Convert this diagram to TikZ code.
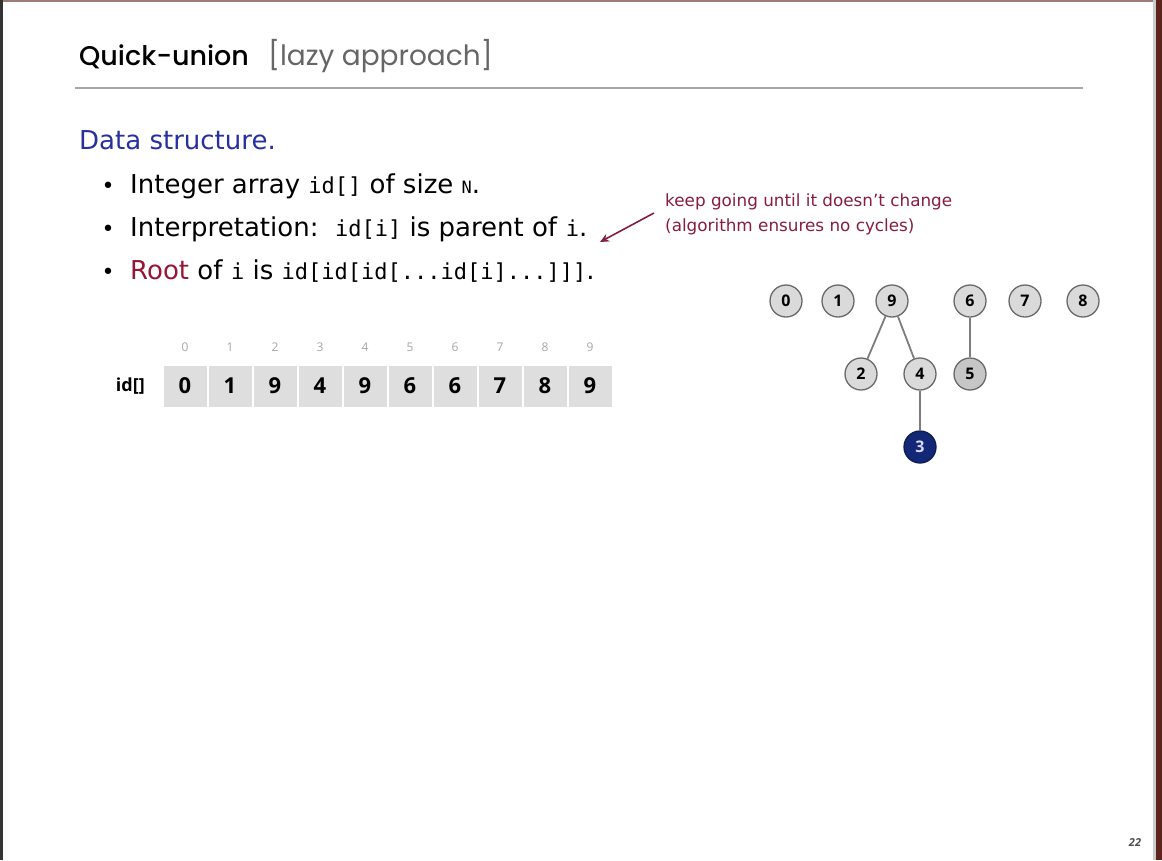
\documentclass[tikz,border=0pt]{standalone}
\usepackage{fontspec}
\setmainfont{DejaVu Sans}
\newfontfamily\titlefont{Poppins}
\newfontfamily\titlebold{Poppins Medium}
\newfontfamily\digitfont{Open Sans}
\setmonofont{DejaVu Sans Mono}
\usetikzlibrary{arrows.meta}
\definecolor{slideblue}{RGB}{40,48,160}
\definecolor{rootred}{RGB}{150,22,55}
\definecolor{notered}{RGB}{135,30,65}
\definecolor{cellgray}{RGB}{222,222,222}
\definecolor{nodegray}{RGB}{218,218,218}
\definecolor{ringgray}{RGB}{105,105,105}
\definecolor{edgegray}{RGB}{125,125,125}
\definecolor{navy}{RGB}{18,40,118}
\definecolor{framered}{RGB}{95,35,30}
\newcommand{\mono}[1]{\texttt{\fontsize{22}{24}\selectfont #1}}
\begin{document}
\begin{tikzpicture}[x=1pt,y=-1pt,
  txt/.style={anchor=base west,inner sep=0pt,font=\fontsize{26}{28}\selectfont},
  bul/.style={anchor=base west,inner sep=0pt,font=\fontsize{26}{28}\selectfont},
  dot/.style={anchor=base,inner sep=0pt,font=\fontsize{22}{28}\selectfont},
  note/.style={anchor=base west,inner sep=0pt,text=notered,font=\fontsize{16.8}{19}\selectfont},
  cell/.style={draw=white,line width=2pt,fill=cellgray,minimum width=45pt,minimum height=43pt,
               inner sep=0pt,font=\digitfont\fontsize{22}{24}\selectfont\bfseries},
  idx/.style={inner sep=0pt,text=gray!70,font=\digitfont\fontsize{12}{14}\selectfont},
  tnode/.style={circle,draw=ringgray,line width=1.3pt,fill=nodegray,minimum size=32pt,inner sep=0pt,
                font=\digitfont\fontsize{16}{17}\selectfont\bfseries},
  tedge/.style={draw=edgegray,line width=1.8pt}]
\useasboundingbox (0,0) rectangle (1162,860);
\fill[white] (0,0) rectangle (1162,860);
% frame edges
\fill[framered!60] (0,0) rectangle (1162,2);
\fill[black!80] (0,0) rectangle (2.5,860);
\fill[framered] (1156,0) rectangle (1162,860);
\fill[gray!40] (1153,0) rectangle (1156,860);

% title and rule
\node[anchor=base west,inner sep=0pt,font=\titlebold\fontsize{27}{30}\selectfont] (title) at (79,65) {Quick-union};
\node[anchor=base west,inner sep=0pt,text=black!60,font=\titlefont\fontsize{28}{30}\selectfont] (sub) at (268,65) {[lazy approach]};
\draw[gray!70,line width=1.6pt] (75,88) -- (1083,88);

% text
\node[txt,text=slideblue] (ds) at (79,149) {Data structure.};
\node[dot] (d1) at (108,193) {\textbullet};
\node[dot] (d2) at (108,236) {\textbullet};
\node[dot] (d3) at (108,279) {\textbullet};
\node[bul] (b1) at (130,193) {Integer array \mono{id[]} of size \texttt{\fontsize{17}{18}\selectfont N}.};
\node[bul] (b2) at (130,236) {Interpretation:\ \ \mono{id[i]} is parent of \mono{i}.};
\node[bul] (b3) at (130,279) {\textcolor{rootred}{Root} of \mono{i} is \mono{id[id[id[...id[i]...]]]}.};

% annotation
\node[note] (n1) at (665,206) {keep going until it doesn't change};
\node[note] (n2) at (665,231) {(algorithm ensures no cycles)};
\coordinate (at) at (654,213);
\coordinate (ah) at (600,242);
\draw[notered,line width=1.6pt,-{Stealth[length=9pt,width=8pt]}] (at) -- (ah);

% array
\node[anchor=east,inner sep=0pt,font=\digitfont\fontsize{18}{20}\selectfont\bfseries] (lbl) at (145,386) {id[]};
\foreach \i/\v in {0/0,1/1,2/9,3/4,4/9,5/6,6/6,7/7,8/8,9/9}{
  \node[cell] (c\i) at ({185+45*\i},386) {\v};
  \node[idx] (x\i) at ({185+45*\i},347) {\i};
}

% forest
\node[tnode] (t0) at (786,301) {0};
\node[tnode] (t1) at (838,301) {1};
\node[tnode] (t9) at (892,301) {9};
\node[tnode] (t6) at (970,301) {6};
\node[tnode] (t7) at (1025,301) {7};
\node[tnode] (t8) at (1083,301) {8};
\node[tnode] (t2) at (861,374) {2};
\node[tnode] (t4) at (920,374) {4};
\node[tnode,fill=gray!45] (t5) at (970,374) {5};
\node[tnode,fill=navy,draw=navy!70!black,text=blue!15] (t3) at (920,447) {3};
\draw[tedge] (t9) -- (t2);
\draw[tedge] (t9) -- (t4);
\draw[tedge] (t6) -- (t5);
\draw[tedge] (t4) -- (t3);

% page number
\node[inner sep=0pt,text=black!70,font=\digitfont\fontsize{11}{12}\selectfont\bfseries\itshape] (pg) at (1135,843) {22};
\end{tikzpicture}
\end{document}
